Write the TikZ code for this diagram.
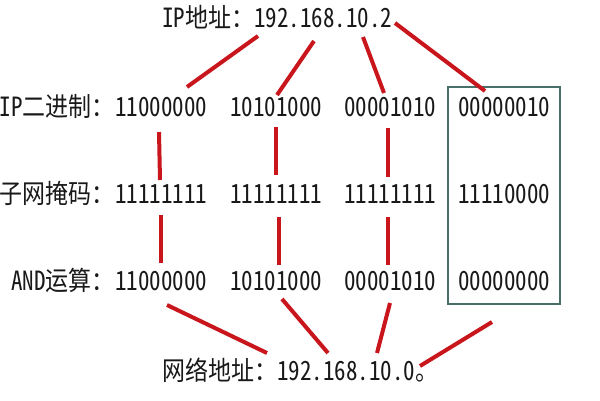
\documentclass[tikz,border=0pt]{standalone}
\usepackage{fontspec}
\usepackage{graphicx}
\newfontfamily\cjk[RawFeature=+hwid]{Noto Sans CJK SC}
\definecolor{linered}{RGB}{200,22,28}
\definecolor{boxteal}{RGB}{70,112,104}
\definecolor{txt}{RGB}{25,25,25}
\newcommand\vtxt[1]{\scalebox{1}[1.15]{#1}}
\begin{document}
\begin{tikzpicture}[x=1pt,y=-1pt,
  lbl/.style={inner sep=0pt, text=txt, font=\cjk\fontsize{23}{23}\selectfont},
  num/.style={lbl, anchor=base west},
  redline/.style={draw=linered, line width=4pt},
  boxline/.style={draw=boxteal, line width=1.3pt}]
\useasboundingbox[fill=white] (0,0) rectangle (600,400);
% title and result
\node[num] (title) at (162,27) {\vtxt{IP地址：192.168.10.2}};
\node[num] (net) at (162,380) {\vtxt{网络地址：192.168.10.0。}};
% row labels
\node[lbl, anchor=base east] (lab1) at (115,116) {\vtxt{IP二进制：}};
\node[lbl, anchor=base east] (lab2) at (115,203) {\vtxt{子网掩码：}};
\node[lbl, anchor=base east] (lab3) at (115,290) {\vtxt{AND运算：}};
% numbers
\node[num] (a1) at (115,116) {\vtxt{11000000}};
\node[num] (a2) at (230,116) {\vtxt{10101000}};
\node[num] (a3) at (344,116) {\vtxt{00001010}};
\node[num] (a4) at (458,116) {\vtxt{00000010}};
\node[num] (b1) at (115,203) {\vtxt{11111111}};
\node[num] (b2) at (230,203) {\vtxt{11111111}};
\node[num] (b3) at (344,203) {\vtxt{11111111}};
\node[num] (b4) at (458,203) {\vtxt{11110000}};
\node[num] (c1) at (115,290) {\vtxt{11000000}};
\node[num] (c2) at (230,290) {\vtxt{10101000}};
\node[num] (c3) at (344,290) {\vtxt{00001010}};
\node[num] (c4) at (458,290) {\vtxt{00000000}};
% box round the last column
\draw[boxline] (448,87) rectangle (560,304);
% connector end points
\coordinate (t1) at (258,36);  \coordinate (u1) at (187,87);
\coordinate (t2) at (314,41);  \coordinate (u2) at (277,95);
\coordinate (t3) at (363,37);  \coordinate (u3) at (384,93);
\coordinate (t4) at (395,23);  \coordinate (u4) at (485,91);
\coordinate (p1) at (159,132); \coordinate (q1) at (160,180);
\coordinate (p2) at (276,127); \coordinate (q2) at (276,175);
\coordinate (p3) at (388,128); \coordinate (q3) at (388,177);
\coordinate (r1) at (161,215); \coordinate (s1) at (161,263);
\coordinate (r2) at (279,217); \coordinate (s2) at (279,265);
\coordinate (r3) at (388,217); \coordinate (s3) at (388,265);
\coordinate (v1) at (167,305); \coordinate (w1) at (267,353);
\coordinate (v2) at (282,299); \coordinate (w2) at (328,353);
\coordinate (v3) at (390,303); \coordinate (w3) at (377,353);
\coordinate (v4) at (492,322); \coordinate (w4) at (420,366);
% connectors
\foreach \i in {1,2,3,4} {\draw[redline] (t\i) -- (u\i);}
\foreach \i in {1,2,3} {\draw[redline] (p\i) -- (q\i); \draw[redline] (r\i) -- (s\i);}
\foreach \i in {1,2,3,4} {\draw[redline] (v\i) -- (w\i);}
\end{tikzpicture}
\end{document}
